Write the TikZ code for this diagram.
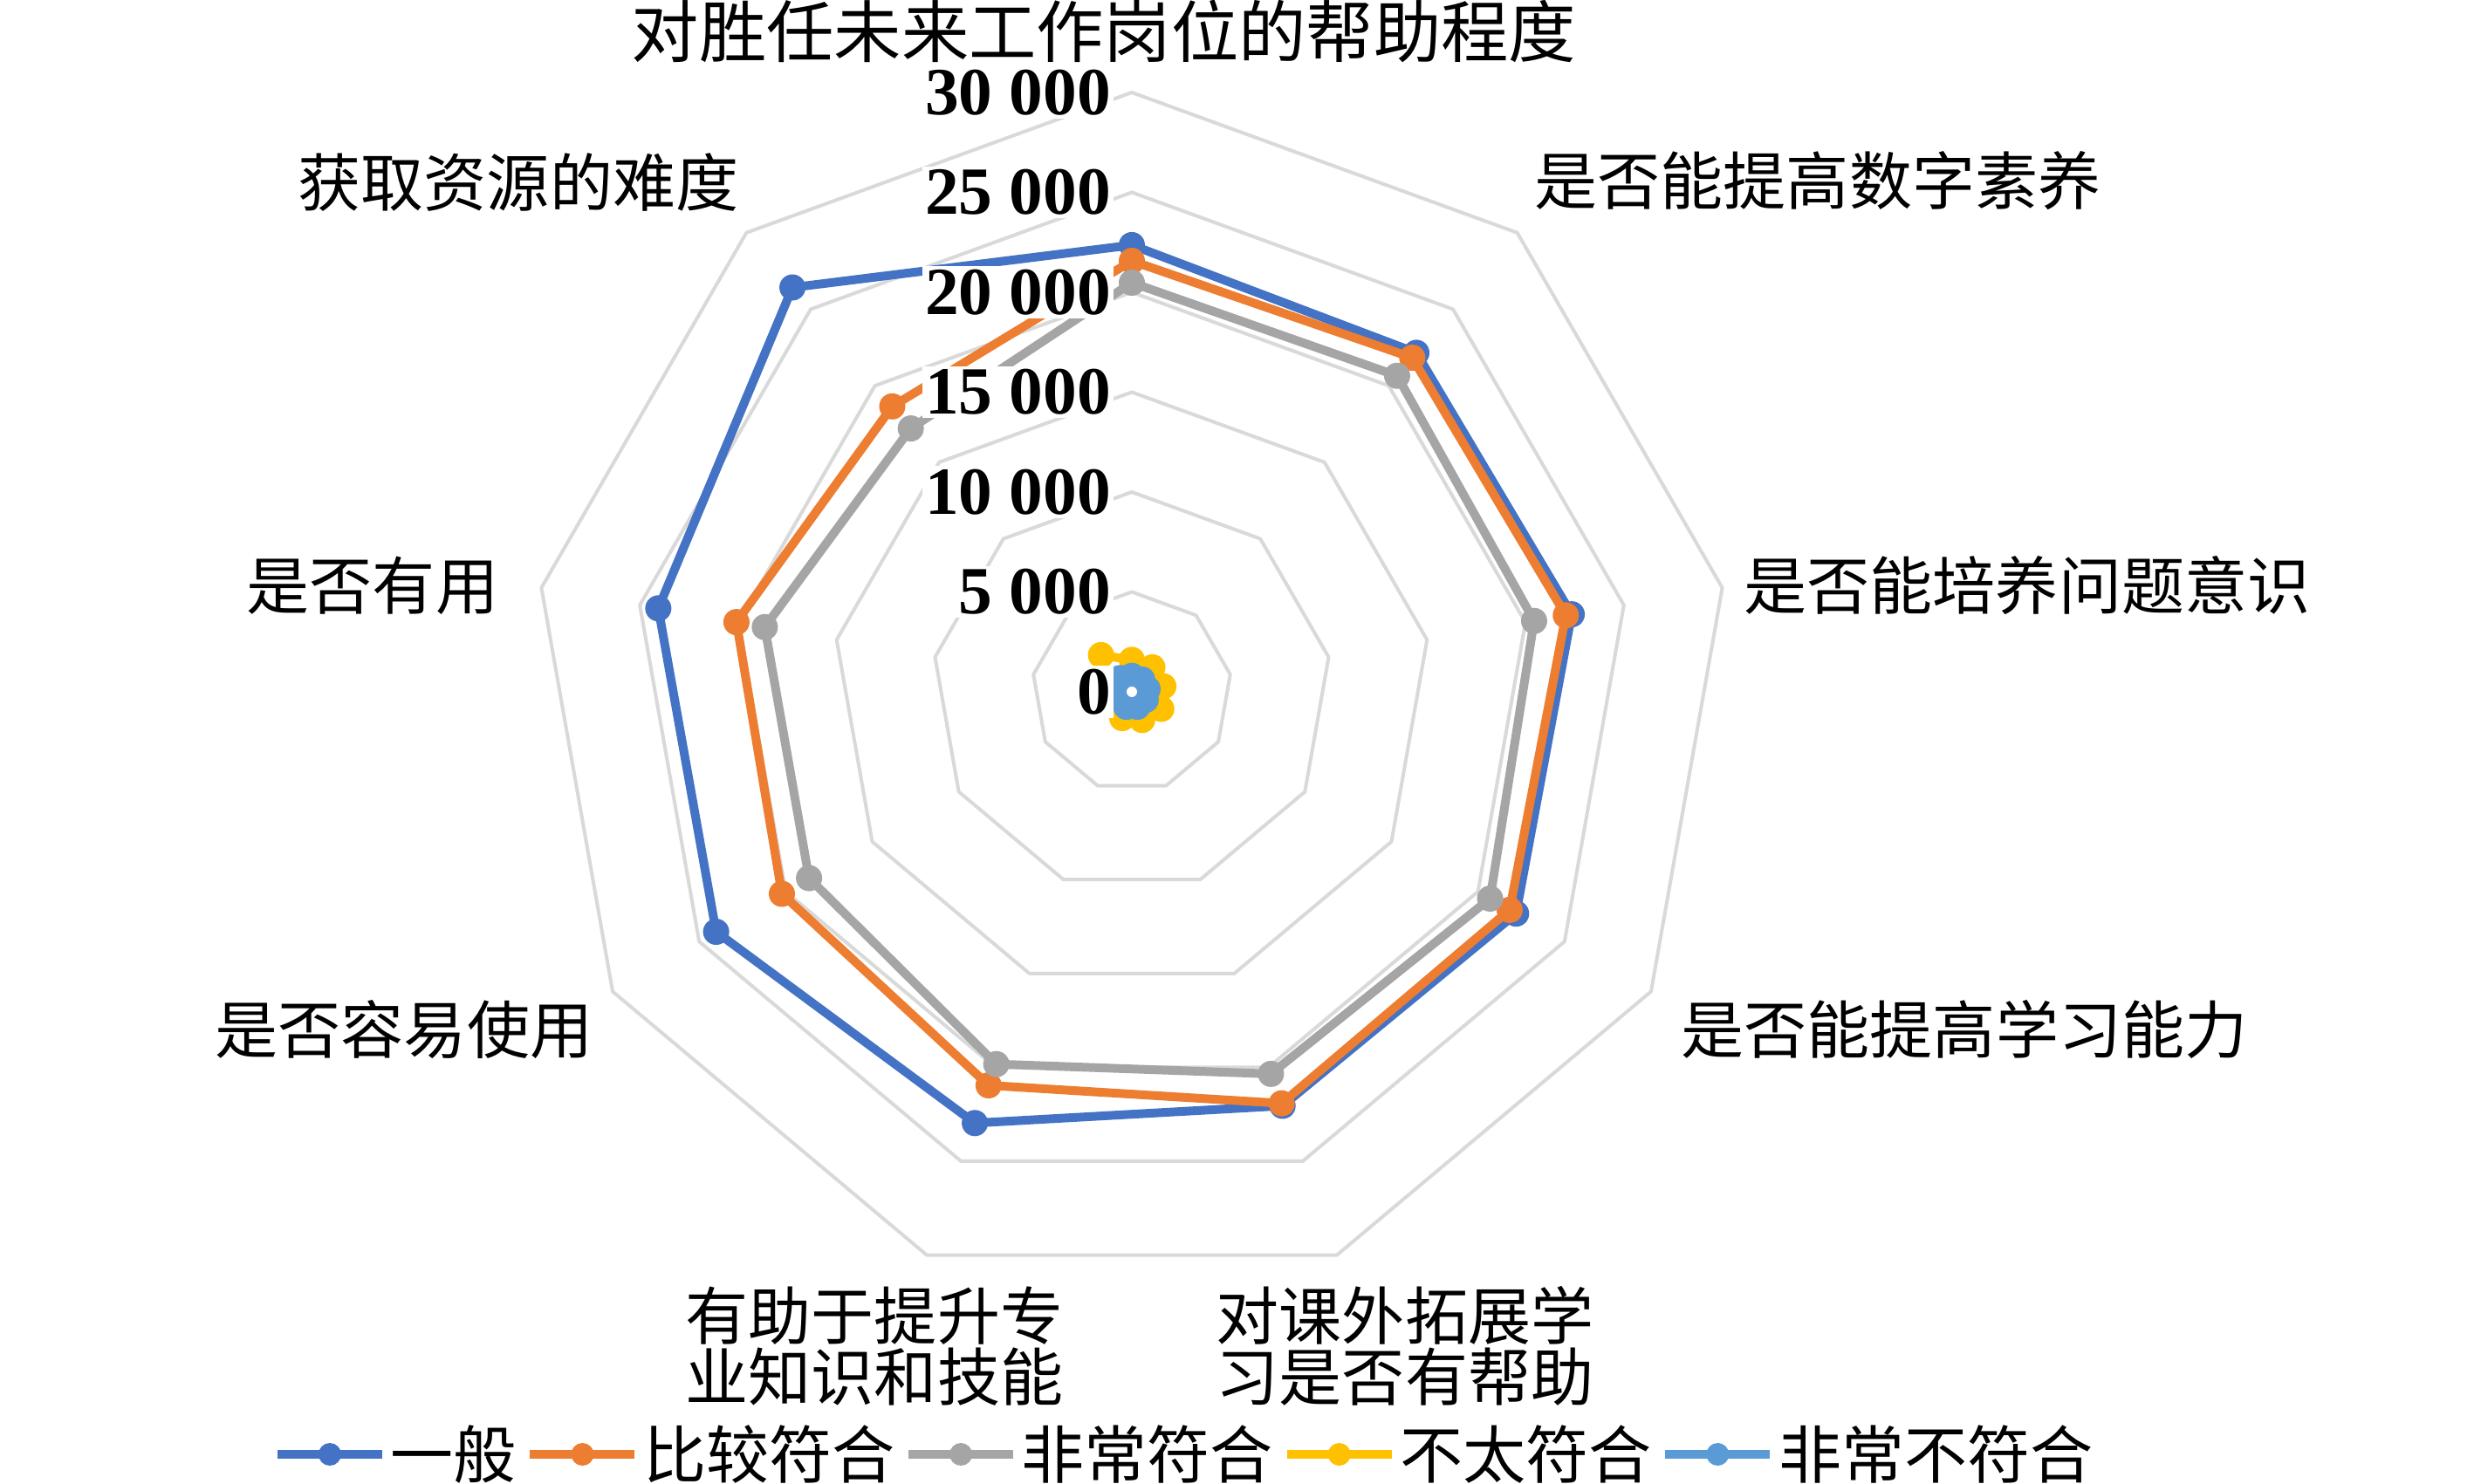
\documentclass[tikz,border=0pt]{standalone}
\usepackage{fontspec}
\setmainfont{Liberation Serif}
\newfontfamily\cjk{Noto Sans CJK SC}
\usepackage{tikz}
\usetikzlibrary{calc,positioning}

\definecolor{cBlue}{HTML}{4472C4}
\definecolor{cOrange}{HTML}{ED7D31}
\definecolor{cGray}{HTML}{A5A5A5}
\definecolor{cYellow}{HTML}{FFC000}
\definecolor{cLight}{HTML}{5B9BD5}
\definecolor{cRing}{HTML}{D9D9D9}

\begin{document}
\begin{tikzpicture}[
  ring/.style={draw=cRing,line width=0.04cm,line join=round},
  series/.style={draw=#1,line width=0.1cm,line join=round},
  lab/.style={font={\cjk\fontsize{20.5}{23}\selectfont},inner sep=0pt,align=center},
  tick/.style={font=\bfseries\fontsize{22}{24}\selectfont,fill=white,inner sep=1pt,anchor=east}]
\fill[white] (-12.97,-9.08) rectangle (15.38,7.93);
\useasboundingbox (-12.97,-9.08) rectangle (15.38,7.93);
\def\unit{0.229}
\coordinate (O) at (0,0);
\foreach \k in {1,...,6}
  \draw[ring] (90:\k*1.145) \foreach \a in {1,...,8} {-- (90-40*\a:\k*1.145)} -- cycle;
\foreach \sr/\col/\vals in {
    b/cBlue/{22.36,22.15,22.35,22.20,22.05,22.97,24.02,24.06,26.42},
    o/cOrange/{21.57,21.83,22.05,21.83,21.92,20.96,20.22,20.09,18.65},
    g/cGray/{20.48,20.65,20.44,20.70,20.35,19.83,18.65,18.65,17.21},
    y/cYellow/{1.6,1.6,1.6,1.7,1.5,1.4,1.3,1.5,2.4},
    l/cLight/{0.8,0.8,0.8,0.8,0.8,0.8,0.7,0.7,0.9}} {
  \foreach \v [count=\i] in \vals
    \coordinate (\sr\i) at ({130-40*\i}:{\v*\unit});
  \draw[series=\col] (\sr1) -- (\sr2) -- (\sr3) -- (\sr4) -- (\sr5) -- (\sr6) -- (\sr7) -- (\sr8) -- (\sr9) -- cycle;
  \foreach \i in {1,...,9}
    \fill[\col] (\sr\i) circle (1.5mm);
}
\fill[white] (O) circle (0.6mm);
\foreach \k/\t in {0/0,1/5 000,2/10 000,3/15 000,4/20 000,5/25 000,6/30 000}
  \node[tick] (t\k) at (-0.2,\k*1.145) {\t};
\node[lab,font={\cjk\fontsize{22}{24}\selectfont}] (a1) at (-0.32,7.57) {对胜任未来工作岗位的帮助程度};
\node[lab] (a2) at (7.86,5.86) {是否能提高数字素养};
\node[lab] (a3) at (10.26,1.22) {是否能培养问题意识};
\node[lab] (a4) at (9.54,-3.87) {是否能提高学习能力};
\node[lab] (a5) at (3.13,-7.50) {对课外拓展学\\[-3pt]习是否有帮助};
\node[lab] (a6) at (-2.95,-7.50) {有助于提升专\\[-3pt]业知识和技能};
\node[lab] (a7) at (-8.34,-3.87) {是否容易使用};
\node[lab] (a8) at (-8.70,1.22) {是否有用};
\node[lab] (a9) at (-7.03,5.84) {获取资源的难度};
\coordinate (k0) at (-9.94,-8.74);
\foreach \col/\t [count=\i, remember=\i as \j (initially 0)] in {cBlue/一般,cOrange/比较符合,cGray/非常符合,cYellow/不太符合,cLight/非常不符合} {
  \draw[series=\col] ([xshift=1.5mm]k\j.east) -- ++(1.2,0) coordinate (e\i);
  \fill[\col] ($(e\i)+(-0.6,0)$) circle (1.3mm);
  \node[lab,right=0.9mm of e\i] (k\i) {\t};
}
\end{tikzpicture}
\end{document}
